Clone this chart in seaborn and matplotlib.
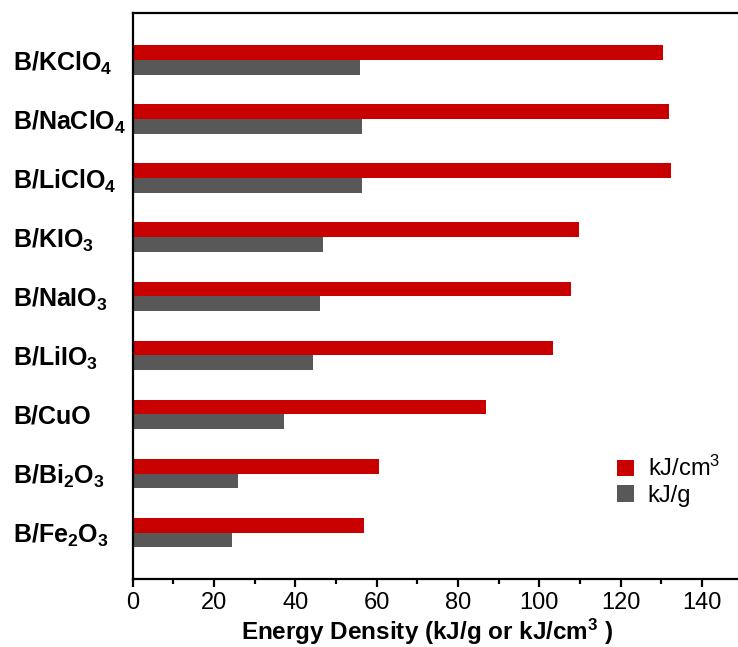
import numpy as np
import pandas as pd
import seaborn as sns
import matplotlib
matplotlib.use("Agg")
import matplotlib.pyplot as plt
from matplotlib.patches import Patch
from matplotlib.ticker import MultipleLocator

# Energy densities of boron-based thermite mixtures
categories = [
    r"B/KClO$_\mathbf{4}$",
    r"B/NaClO$_\mathbf{4}$",
    r"B/LiClO$_\mathbf{4}$",
    r"B/KIO$_\mathbf{3}$",
    r"B/NaIO$_\mathbf{3}$",
    r"B/LiIO$_\mathbf{3}$",
    "B/CuO",
    r"B/Bi$_\mathbf{2}$O$_\mathbf{3}$",
    r"B/Fe$_\mathbf{2}$O$_\mathbf{3}$",
]
volumetric = [130.4, 131.8, 132.3, 109.7, 107.7, 103.5, 87.0, 60.5, 57.0]   # kJ/cm3
gravimetric = [55.9, 56.4, 56.5, 46.8, 46.0, 44.3, 37.2, 25.8, 24.5]        # kJ/g
series_names = [r"kJ/cm$^3$", "kJ/g"]
xticks = [0, 20, 40, 60, 80, 100, 120, 140]

sns.set_style("ticks")
plt.rcParams["font.family"] = ["Liberation Sans", "DejaVu Sans"]
plt.rcParams["mathtext.fontset"] = "custom"
plt.rcParams["mathtext.rm"] = "Liberation Sans"
plt.rcParams["mathtext.it"] = "Liberation Sans:italic"
plt.rcParams["mathtext.bf"] = "Liberation Sans:bold"
for key in ["text.color", "axes.labelcolor", "xtick.color", "ytick.color"]:
    plt.rcParams[key] = "black"

df = pd.DataFrame({
    "mixture": categories * 2,
    "value": volumetric + gravimetric,
    "unit": [series_names[0]] * len(categories) + [series_names[1]] * len(categories),
})

colors = {series_names[0]: "#C80000", series_names[1]: "#585858"}

fig = plt.figure(figsize=(7.38, 6.47), dpi=100)
ax = fig.add_axes([0.1798, 0.1046, 0.8263, 0.8758])

sns.barplot(data=df, y="mixture", x="value", hue="unit", order=categories,
            hue_order=series_names, palette=colors, orient="h", width=0.5,
            linewidth=0, saturation=1, errorbar=None, ax=ax, legend=False)

ax.set_xlim(0, 150)
ax.set_ylim(8.79, -0.80)
ax.set_xticks(xticks)
ax.xaxis.set_minor_locator(MultipleLocator(10))
ax.set_ylabel("")
ax.set_xlabel(r"Energy Density (kJ/g or kJ/cm$^\mathbf{3}$ )",
              fontsize=17.5, fontweight="bold")
ax.xaxis.set_label_coords(0.483, -0.066)
ax.xaxis.label.set_verticalalignment("top")

for side in ["left", "bottom", "top", "right"]:
    ax.spines[side].set_visible(True)
    ax.spines[side].set_linewidth(1.6)
    ax.spines[side].set_color("black")

ax.tick_params(axis="x", which="major", direction="out", length=6, width=1.6,
               labelsize=17, pad=3)
ax.tick_params(axis="x", which="minor", direction="out", length=3.5, width=1.6)
ax.tick_params(axis="y", which="both", length=0, labelsize=18, pad=86)
for lbl in ax.get_yticklabels():
    lbl.set_horizontalalignment("left")
    lbl.set_fontweight("bold")

handles = [Patch(facecolor=colors[s], edgecolor="none", label=s) for s in series_names]
ax.legend(handles=handles, loc="upper left", frameon=False, fontsize=17,
          bbox_to_anchor=(617 / 738, 1 - 456 / 647), bbox_transform=fig.transFigure,
          borderaxespad=0, borderpad=0, handlelength=0.7, handleheight=0.7,
          handletextpad=0.6, labelspacing=0.15)

fig.savefig("out.png", dpi=100)
